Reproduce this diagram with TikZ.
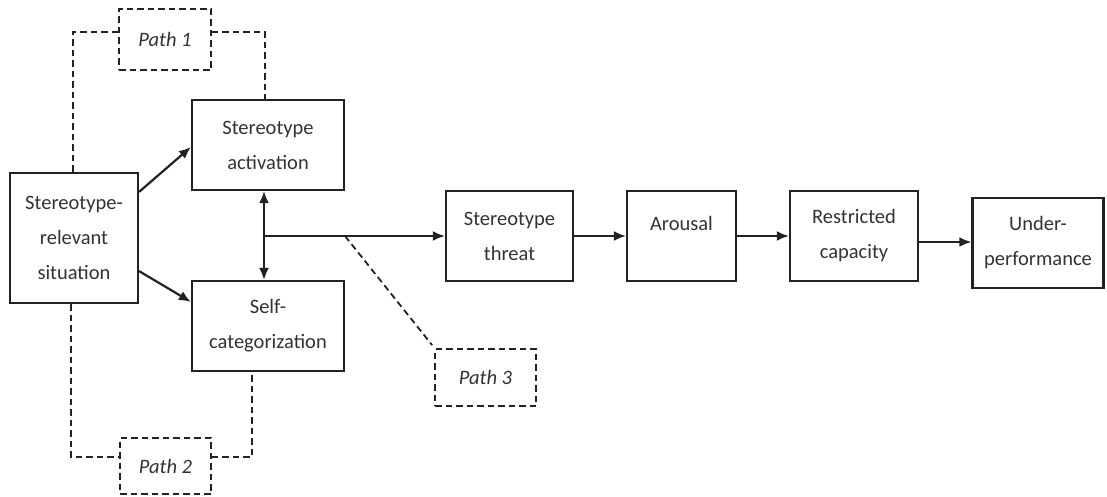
\documentclass[tikz,border=0pt]{standalone}
\usepackage{fontspec}
\setmainfont{Carlito}
\usetikzlibrary{arrows.meta,calc}
\definecolor{ln}{HTML}{222222}
\definecolor{tx}{HTML}{333333}
\begin{document}
\begin{tikzpicture}[x=1pt,y=-1pt,
  box/.style={draw=ln,line width=2.2pt,inner sep=0pt,align=center,text=tx,
    font=\fontsize{20.5}{35}\selectfont},
  pathbox/.style={draw=ln,line width=1.8pt,dash pattern=on 6.5pt off 4pt,inner sep=0pt,
    align=center,text=tx,font=\fontsize{20.5}{24}\selectfont\itshape},
  conn/.style={draw=ln,line width=2.2pt,-{Latex[length=12pt,width=10pt]}},
  biconn/.style={draw=ln,line width=2.2pt,{Latex[length=12pt,width=10pt]}-{Latex[length=12pt,width=10pt]}},
  dconn/.style={draw=ln,line width=1.8pt,dash pattern=on 6.5pt off 4pt}]
\useasboundingbox[fill=white] (0,0) rectangle (1107,496);

\node[box,minimum width=128pt,minimum height=130pt] (sit) at (74,238) {Stereotype-\\relevant\\situation};
\node[box,minimum width=152pt,minimum height=90pt] (act) at (268,145) {Stereotype\\activation};
\node[box,minimum width=152pt,minimum height=90pt] (self) at (268,326) {Self-\\categorization};
\node[box,minimum width=127pt,minimum height=90pt] (threat) at (509.5,236) {Stereotype\\threat};
\node[box,minimum width=109pt,minimum height=90pt] (arousal) at (681.5,236) {Arousal\\[-10pt]\mbox{}};
\node[box,minimum width=128pt,minimum height=90pt] (restr) at (854,236) {Restricted\\capacity};
\node[box,minimum width=131pt,minimum height=90pt] (under) at (1038,243) {Under-\\performance};

\node[pathbox,minimum width=92pt,minimum height=61pt] (p1) at (165,39.5) {Path 1};
\node[pathbox,minimum width=91pt,minimum height=56pt] (p2) at (165.5,466) {Path 2};
\node[pathbox,minimum width=101pt,minimum height=57pt] (p3) at (485.5,377.5) {Path 3};

\coordinate (j) at (264,236);
\coordinate (p3s) at (345,236);

\draw[conn] ($(sit.north east)+(0,20)$) -- ($(act.west)+(0,2)$);
\draw[conn] ($(sit.south east)+(0,-33)$) -- ($(self.north west)+(0,22)$);
\draw[biconn] (act.south -| j) -- (self.north -| j);
\draw[draw=ln,line width=2.2pt] (j) -- (p3s);
\draw[conn] (p3s) -- (threat.west);
\draw[conn] (threat) -- (arousal);
\draw[conn] (arousal) -- (restr);
\draw[conn] ($(restr.east)+(0,6)$) -- ($(under.west)+(0,-1)$);

\draw[dconn] ($(sit.north)+(-1,0)$) |- ($(p1.west)+(0,-7.5)$);
\draw[dconn] ($(p1.east)+(0,-7.5)$) -| ($(act.north)+(-3,0)$);
\draw[dconn] ($(sit.south)+(-3,0)$) |- ($(p2.west)+(0,-9)$);
\draw[dconn] ($(p2.east)+(0,-9)$) -| ($(self.south)+(-16,0)$);
\draw[dconn] (p3s) -- ($(p3.north west)+(-2,-3)$);
\end{tikzpicture}
\end{document}
